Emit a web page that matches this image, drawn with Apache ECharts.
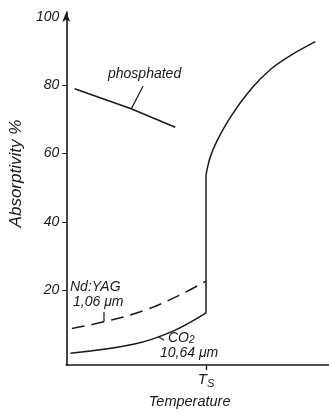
<!DOCTYPE html>
<html>
<head>
<meta charset="utf-8">
<script src="https://cdn.jsdelivr.net/npm/echarts@6/dist/echarts.min.js"></script>
<style>
  html, body { margin: 0; padding: 0; background: #fff; }
  #chart { width: 329px; height: 414px; }
</style>
</head>
<body>
<div id="chart"></div>
<script>
// Absorptivity (%) versus temperature, T normalised so that Ts = 1
const yTickValues = [20, 40, 60, 80];
const yLabelValues = [20, 40, 60, 80, 100];
const tsValue = 1;

// phosphated surface
const phosphated = [[0.06, 79.0], [0.46, 73.2], [0.78, 67.7]];
// Nd:YAG 1,06 µm (dashed)
const ndYag = [[0.04, 8.7], [0.27, 10.7], [0.55, 13.9], [0.8, 18.3], [1.0, 22.6]];
// CO2 10,64 µm below Ts
const co2Solid = [[0.03, 1.5], [0.48, 4.1], [0.76, 7.9], [1.0, 13.3]];
// jump in absorptivity at Ts
const co2Jump = [[1.0, 13.3], [1.0, 53.8]];
// above Ts
const co2Melt = [[1.0, 53.8], [1.028, 58.7], [1.077, 63.6], [1.183, 71.2], [1.324, 79.0], [1.465, 84.8], [1.606, 88.8], [1.782, 92.8]];

// leader lines from labels to curves
const leaderPhosphated = [[0.465, 73.1], [0.55, 79.8]];
const leaderNdYag = [[0.27, 10.7], [0.27, 13.6]];
const leaderCo2 = [[0.66, 6.3], [0.70, 5.3]];

const ink = '#1a1a1a';
const font = '"Liberation Sans", Arial, sans-serif';

function line(data, opts) {
  return Object.assign({
    type: 'line',
    data: data,
    showSymbol: false,
    silent: true,
    lineStyle: { color: ink, width: 1.5 },
    z: 3
  }, opts || {});
}

const chart = echarts.init(document.getElementById('chart'));
chart.setOption({
  animation: false,
  backgroundColor: '#fff',
  grid: { left: 62, right: 0, top: 12, bottom: 44 },
  xAxis: {
    type: 'value',
    min: 0,
    max: 1.88,
    name: 'Temperature',
    nameLocation: 'middle',
    nameGap: 27,
    nameTextStyle: { fontFamily: font, fontStyle: 'italic', fontSize: 14.5, color: ink, padding: [0, 16, 0, 0] },
    axisLine: { onZero: false, lineStyle: { color: ink, width: 1.6 } },
    axisTick: { show: true, customValues: [tsValue], length: 5, lineStyle: { color: ink, width: 1.3 } },
    axisLabel: {
      customValues: [tsValue],
      margin: 6,
      formatter: function () { return '{t|T}{s|S}'; },
      rich: {
        t: { fontFamily: font, fontStyle: 'italic', fontSize: 15, color: ink },
        s: { fontFamily: font, fontStyle: 'italic', fontSize: 11, color: ink, verticalAlign: 'bottom', padding: [7, 0, 0, 0] }
      }
    },
    splitLine: { show: false }
  },
  yAxis: {
    type: 'value',
    min: -2,
    max: 101.5,
    name: 'Absorptivity %',
    nameLocation: 'middle',
    nameGap: 35,
    nameTextStyle: { fontFamily: font, fontStyle: 'italic', fontSize: 17, color: ink, padding: [0, 0, 0, 30] },
    axisLine: { show: true, symbol: ['none', 'arrow'], symbolSize: [6, 10], lineStyle: { color: ink, width: 1.6 } },
    axisTick: { show: true, customValues: yTickValues, length: 4, lineStyle: { color: ink, width: 1 } },
    axisLabel: {
      customValues: yLabelValues,
      margin: 7,
      fontFamily: font,
      fontStyle: 'italic',
      fontSize: 14,
      color: ink
    },
    splitLine: { show: false }
  },
  series: [
    line(phosphated),
    line(ndYag, { smooth: 0.4, lineStyle: { color: ink, width: 1.5, type: [13, 7] } }),
    line(co2Solid, { smooth: 0.4 }),
    line(co2Jump),
    line(co2Melt, { smooth: 0.3 }),
    line(leaderPhosphated, { lineStyle: { color: ink, width: 1.2 } }),
    line(leaderNdYag, { lineStyle: { color: ink, width: 1.2 } }),
    line(leaderCo2, { lineStyle: { color: ink, width: 1.2 } })
  ],
  graphic: [
    { type: 'text', left: 108, top: 67, style: { text: 'phosphated', font: 'italic 14px ' + font, fill: ink } },
    { type: 'text', left: 70, top: 280, style: { text: 'Nd:YAG', font: 'italic 14px ' + font, fill: ink } },
    { type: 'text', left: 73, top: 295, style: { text: '1,06 \u03bcm', font: 'italic 14px ' + font, fill: ink } },
    {
      type: 'text', left: 168, top: 331,
      style: {
        text: '{a|CO}{b|2}',
        rich: {
          a: { font: 'italic 14px ' + font, fill: ink },
          b: { font: 'italic 10px ' + font, fill: ink, verticalAlign: 'bottom', padding: [5, 0, 0, 0] }
        }
      }
    },
    { type: 'text', left: 160, top: 346, style: { text: '10,64 \u03bcm', font: 'italic 14px ' + font, fill: ink } }
  ]
});
</script>
</body>
</html>
